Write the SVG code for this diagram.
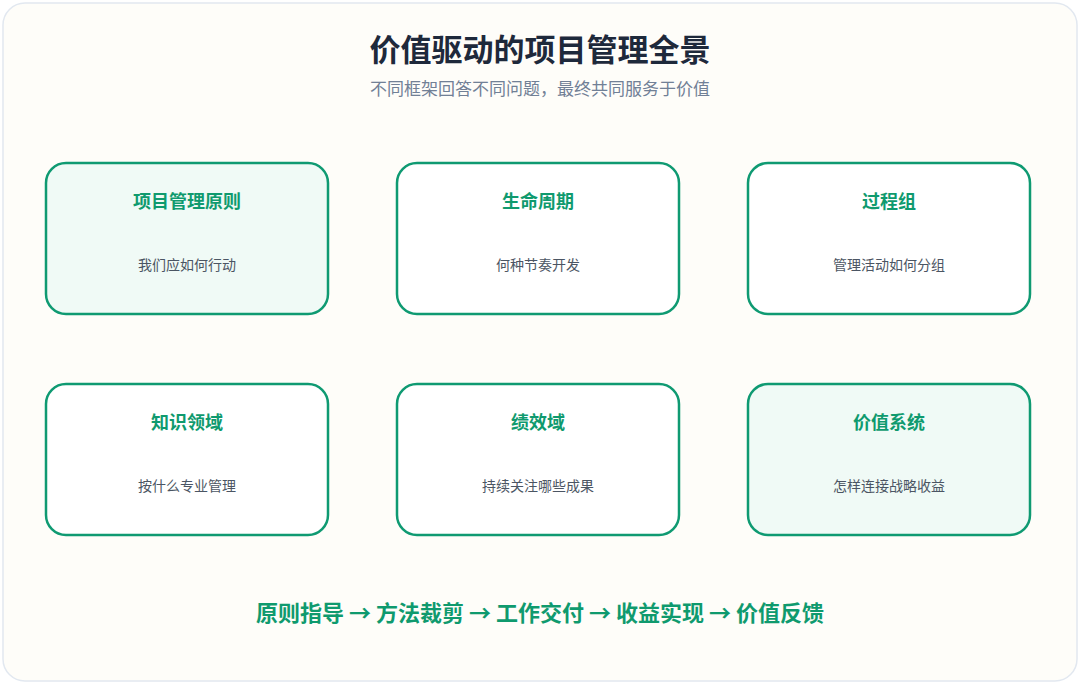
<svg xmlns="http://www.w3.org/2000/svg" width="1080" height="684" viewBox="0 0 1080 684">
<style>
.t{font-family:"Noto Sans CJK SC","Noto Sans",sans-serif;text-anchor:middle}
.box{stroke:#0f9a72;stroke-width:2.5;fill:#ffffff}
.hl{fill:#f0faf6}
.nt{font-size:18px;font-weight:700;fill:#0f9a6e}
.ns{font-size:14px;fill:#4b5563}
</style>
<rect x="0" y="0" width="1080" height="684" fill="#ffffff"/>
<rect x="3" y="3" width="1074" height="678" rx="22" fill="#fefdf9" stroke="#e2e8f0" stroke-width="1.5"/>
<text class="t" x="540" y="61" font-size="31" font-weight="700" fill="#1e293b">价值驱动的项目管理全景</text>
<text class="t" x="540" y="95" font-size="17" fill="#718096">不同框架回答不同问题，最终共同服务于价值</text>
<g id="connectors"></g>
<g id="n1"><rect class="box hl" x="46" y="163" width="282" height="151" rx="20"/><text class="t nt" x="187" y="208">项目管理原则</text><text class="t ns" x="187" y="270">我们应如何行动</text></g>
<g id="n2"><rect class="box" x="397" y="163" width="282" height="151" rx="20"/><text class="t nt" x="538" y="208">生命周期</text><text class="t ns" x="538" y="270">何种节奏开发</text></g>
<g id="n3"><rect class="box" x="748" y="163" width="282" height="151" rx="20"/><text class="t nt" x="889" y="208">过程组</text><text class="t ns" x="889" y="270">管理活动如何分组</text></g>
<g id="n4"><rect class="box" x="46" y="384" width="282" height="151" rx="20"/><text class="t nt" x="187" y="429">知识领域</text><text class="t ns" x="187" y="491">按什么专业管理</text></g>
<g id="n5"><rect class="box" x="397" y="384" width="282" height="151" rx="20"/><text class="t nt" x="538" y="429">绩效域</text><text class="t ns" x="538" y="491">持续关注哪些成果</text></g>
<g id="n6"><rect class="box hl" x="748" y="384" width="282" height="151" rx="20"/><text class="t nt" x="889" y="429">价值系统</text><text class="t ns" x="889" y="491">怎样连接战略收益</text></g>
<text class="t" x="540" y="621" font-size="22" font-weight="700" fill="#0f9a6e">原则指导 → 方法裁剪 → 工作交付 → 收益实现 → 价值反馈</text>
</svg>
